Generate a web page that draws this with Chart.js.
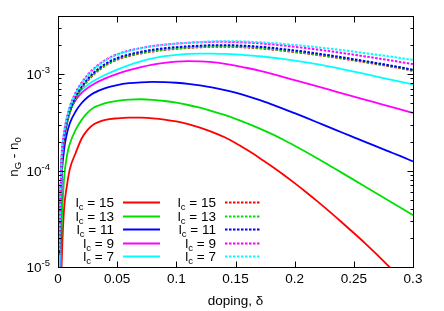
<!DOCTYPE html>
<html><head><meta charset="utf-8">
<script src="https://cdn.jsdelivr.net/npm/chart.js@4/dist/chart.umd.min.js"></script>
<style>html,body{margin:0;padding:0;background:#fff}#wrap{width:444px;height:311px}</style>
</head><body><div id="wrap"><canvas id="c" width="444" height="311"></canvas></div>
<script>
const doping = [0.001,0.003,0.005,0.0075,0.01,0.015,0.02,0.025,0.03,0.04,0.05,0.06,0.07,0.08,0.09,0.1,0.11,0.12,0.13,0.14,0.15,0.16,0.17,0.18,0.19,0.2,0.21,0.22,0.23,0.24,0.25,0.26,0.27,0.28,0.29,0.3];
const solid15 = [1e-6,1e-5,3.8e-5,6.9e-5,1.035e-4,1.53e-4,2.15e-4,2.64e-4,3.0e-4,3.35e-4,3.48e-4,3.54e-4,3.53e-4,3.48e-4,3.38e-4,3.23e-4,3.03e-4,2.79e-4,2.52e-4,2.24e-4,1.93e-4,1.63e-4,1.36e-4,1.12e-4,9.15e-5,7.4e-5,5.92e-5,4.7e-5,3.7e-5,2.89e-5,2.25e-5,1.74e-5,1.33e-5,1.0e-5,7.6e-6,5.7e-6];
const solid13 = [2e-6,2.5e-5,7.9e-5,1.41e-4,1.9e-4,2.66e-4,3.35e-4,3.98e-4,4.47e-4,5.01e-4,5.28e-4,5.43e-4,5.48e-4,5.41e-4,5.26e-4,5.05e-4,4.78e-4,4.48e-4,4.14e-4,3.79e-4,3.44e-4,3.08e-4,2.74e-4,2.41e-4,2.1e-4,1.81e-4,1.55e-4,1.32e-4,1.117e-4,9.46e-5,8.0e-5,6.76e-5,5.71e-5,4.83e-5,4.08e-5,3.45e-5];
const solid11 = [3.2e-6,7.1e-5,1.58e-4,2.4e-4,3.09e-4,4.12e-4,5.01e-4,5.75e-4,6.35e-4,7.16e-4,7.69e-4,8.04e-4,8.22e-4,8.3e-4,8.26e-4,8.13e-4,7.93e-4,7.64e-4,7.28e-4,6.87e-4,6.41e-4,5.92e-4,5.4e-4,4.88e-4,4.39e-4,3.93e-4,3.51e-4,3.13e-4,2.79e-4,2.48e-4,2.21e-4,1.97e-4,1.76e-4,1.57e-4,1.4e-4,1.245e-4];
const solid9 = [5e-6,1e-4,2.0e-4,3.16e-4,4.12e-4,5.37e-4,6.38e-4,7.16e-4,7.85e-4,9.02e-4,1.005e-3,1.096e-3,1.18e-3,1.253e-3,1.309e-3,1.346e-3,1.361e-3,1.355e-3,1.327e-3,1.282e-3,1.225e-3,1.156e-3,1.084e-3,1.009e-3,9.35e-4,8.65e-4,8.0e-4,7.4e-4,6.84e-4,6.32e-4,5.85e-4,5.41e-4,5.0e-4,4.62e-4,4.28e-4,3.95e-4];
const solid7 = [5.6e-6,1.07e-4,2.14e-4,3.39e-4,4.42e-4,5.75e-4,6.84e-4,7.71e-4,8.47e-4,9.84e-4,1.114e-3,1.239e-3,1.352e-3,1.452e-3,1.531e-3,1.585e-3,1.618e-3,1.633e-3,1.633e-3,1.622e-3,1.6e-3,1.567e-3,1.531e-3,1.486e-3,1.435e-3,1.38e-3,1.321e-3,1.259e-3,1.194e-3,1.127e-3,1.062e-3,9.98e-4,9.38e-4,8.81e-4,8.28e-4,7.8e-4];
const dashed15 = [1.34e-5,1.15e-4,2.07e-4,3.05e-4,3.99e-4,5.59e-4,7.09e-4,8.5e-4,9.86e-4,1.227e-3,1.41e-3,1.536e-3,1.638e-3,1.718e-3,1.784e-3,1.829e-3,1.866e-3,1.896e-3,1.917e-3,1.921e-3,1.91e-3,1.886e-3,1.849e-3,1.804e-3,1.748e-3,1.691e-3,1.636e-3,1.574e-3,1.511e-3,1.449e-3,1.386e-3,1.324e-3,1.264e-3,1.205e-3,1.145e-3,1.082e-3];
const dashed13 = [1.36e-5,1.17e-4,2.1e-4,3.09e-4,4.04e-4,5.66e-4,7.18e-4,8.61e-4,9.98e-4,1.241e-3,1.426e-3,1.553e-3,1.656e-3,1.737e-3,1.804e-3,1.849e-3,1.886e-3,1.916e-3,1.937e-3,1.941e-3,1.93e-3,1.906e-3,1.869e-3,1.824e-3,1.767e-3,1.71e-3,1.655e-3,1.592e-3,1.529e-3,1.466e-3,1.403e-3,1.341e-3,1.281e-3,1.222e-3,1.162e-3,1.098e-3];
const dashed11 = [1.4e-5,1.2e-4,2.16e-4,3.18e-4,4.15e-4,5.82e-4,7.38e-4,8.85e-4,1.026e-3,1.276e-3,1.466e-3,1.596e-3,1.702e-3,1.786e-3,1.854e-3,1.901e-3,1.939e-3,1.97e-3,1.991e-3,1.995e-3,1.984e-3,1.959e-3,1.921e-3,1.875e-3,1.817e-3,1.758e-3,1.697e-3,1.629e-3,1.561e-3,1.493e-3,1.426e-3,1.36e-3,1.296e-3,1.233e-3,1.172e-3,1.108e-3];
const dashed9 = [1.55e-5,1.33e-4,2.4e-4,3.52e-4,4.6e-4,6.45e-4,8.15e-4,9.8e-4,1.13e-3,1.4e-3,1.603e-3,1.75e-3,1.862e-3,1.95e-3,2.018e-3,2.07e-3,2.109e-3,2.138e-3,2.156e-3,2.158e-3,2.148e-3,2.123e-3,2.084e-3,2.037e-3,1.979e-3,1.919e-3,1.856e-3,1.791e-3,1.724e-3,1.656e-3,1.589e-3,1.522e-3,1.457e-3,1.393e-3,1.33e-3,1.269e-3];
const dashed7 = [1.5e-5,1.3e-4,2.35e-4,3.45e-4,4.5e-4,6.3e-4,8.0e-4,9.6e-4,1.11e-3,1.38e-3,1.59e-3,1.73e-3,1.85e-3,1.94e-3,2.01e-3,2.07e-3,2.11e-3,2.15e-3,2.18e-3,2.19e-3,2.19e-3,2.17e-3,2.14e-3,2.1e-3,2.056e-3,2.004e-3,1.95e-3,1.892e-3,1.832e-3,1.77e-3,1.708e-3,1.646e-3,1.585e-3,1.524e-3,1.464e-3,1.404e-3];
const lcLabels = ['15','13','11','9','7'];
const xTicks = [0,0.05,0.1,0.15,0.2,0.25,0.3];
const xTickLabels = ['0','0.05','0.1','0.15','0.2','0.25','0.3'];
const yDecades = [-5,-4,-3];

const colors = ['#ff0000','#00e000','#0000ff','#ff00ff','#00ffff'];
const solids = [solid15,solid13,solid11,solid9,solid7];
const dashes = [dashed15,dashed13,dashed11,dashed9,dashed7];
const DASH = [2.5,1.5];

const datasets = [];
solids.forEach((s,i)=>datasets.push({data:doping.map((x,k)=>({x,y:s[k]})),borderColor:colors[i],borderWidth:1.8,pointRadius:0,fill:false,cubicInterpolationMode:'monotone',order:20-i}));
dashes.forEach((s,i)=>datasets.push({data:doping.map((x,k)=>({x,y:s[k]})),borderColor:colors[i],borderWidth:2,borderDash:DASH,pointRadius:0,fill:false,cubicInterpolationMode:'monotone',order:10-i}));

const FONT = '"Liberation Sans", Arial, sans-serif';
const deco = {
  id:'deco',
  afterDraw(chart){
    const ctx = chart.ctx, a = chart.chartArea, xs = chart.scales.x, ys = chart.scales.y;
    ctx.save();
    ctx.strokeStyle = '#000'; ctx.lineWidth = 1; ctx.setLineDash([]);
    const L = Math.round(a.left)+0.5, R = Math.round(a.right)+0.5, T = Math.round(a.top)+0.5, B = Math.round(a.bottom)+0.5;
    ctx.strokeRect(L, T, R-L, B-T);
    ctx.beginPath();
    xTicks.forEach(v=>{const px=Math.round(xs.getPixelForValue(v))+0.5; ctx.moveTo(px,B); ctx.lineTo(px,B-6); ctx.moveTo(px,T); ctx.lineTo(px,T+6);});
    yDecades.forEach(d=>{
      for(let m=1;m<=9;m++){
        const v=m*Math.pow(10,d); if(v>ys.max*1.0001) continue;
        const py=Math.round(ys.getPixelForValue(v))+0.5; const len=m===1?6:3;
        ctx.moveTo(L,py); ctx.lineTo(L+len,py); ctx.moveTo(R,py); ctx.lineTo(R-len,py);
      }
    });
    ctx.stroke();
    ctx.fillStyle = '#000';
    ctx.font = '13.5px '+FONT; ctx.textAlign='center'; ctx.textBaseline='alphabetic';
    xTicks.forEach((v,i)=>{ctx.fillText(xTickLabels[i], xs.getPixelForValue(v), B+15);});
    yDecades.forEach(d=>{
      const py = ys.getPixelForValue(Math.pow(10,d));
      ctx.font = '9.5px '+FONT; ctx.textAlign='right';
      const sup = String(d);
      const sw = ctx.measureText(sup).width;
      ctx.fillText(sup, 50, py-1);
      ctx.font = '13.5px '+FONT;
      ctx.fillText('10', 50-sw, py+5);
    });
    ctx.font = '13.5px '+FONT; ctx.textAlign='center';
    ctx.fillText('doping, δ', (a.left+a.right)/2, 305);
    ctx.save(); ctx.translate(18,157); ctx.rotate(-Math.PI/2);
    const parts=[['n',0],['G',1],[' - n',0],['0',1]];
    let tw=0; parts.forEach(p=>{ctx.font=(p[1]?'9.5px ':'13.5px ')+FONT; tw+=ctx.measureText(p[0]).width;});
    let x0=-tw/2; ctx.textAlign='left';
    parts.forEach(p=>{ctx.font=(p[1]?'9.5px ':'13.5px ')+FONT; ctx.fillText(p[0],x0,p[1]?3:0); x0+=ctx.measureText(p[0]).width;});
    ctx.restore();
    const rows=[202,215.5,229,242.5,256];
    const cols=[{tr:114,s0:123,s1:160,dash:false},{tr:216,s0:225,s1:261,dash:true}];
    cols.forEach(c=>{
      lcLabels.forEach((lab,i)=>{
        const y=rows[i];
        ctx.fillStyle='#000'; ctx.textAlign='left';
        ctx.font='13.5px '+FONT; const t3=' = '+lab; const w3=ctx.measureText(t3).width; const wl=ctx.measureText('l').width;
        ctx.font='9.5px '+FONT; const wc=ctx.measureText('c').width;
        let x=c.tr-w3-wc-wl;
        ctx.font='13.5px '+FONT; ctx.fillText('l',x,y+5); x+=wl;
        ctx.font='9.5px '+FONT; ctx.fillText('c',x,y+8); x+=wc;
        ctx.font='13.5px '+FONT; ctx.fillText(t3,x,y+5);
        ctx.strokeStyle=colors[i]; ctx.lineWidth=c.dash?2:1.8; ctx.setLineDash(c.dash?DASH:[]);
        ctx.beginPath(); ctx.moveTo(c.s0,Math.round(y)+0.5); ctx.lineTo(c.s1,Math.round(y)+0.5); ctx.stroke();
      });
    });
    ctx.restore();
  }
};

new Chart(document.getElementById('c'),{
  type:'line',
  data:{datasets},
  options:{
    responsive:false, animation:false, devicePixelRatio:1,
    layout:{padding:{left:58,right:31,top:16,bottom:44}},
    plugins:{legend:{display:false},tooltip:{enabled:false}},
    scales:{
      x:{type:'linear',min:0,max:0.3,display:false},
      y:{type:'logarithmic',min:1e-5,max:4e-3,display:false}
    }
  },
  plugins:[deco]
});
</script></body></html>
